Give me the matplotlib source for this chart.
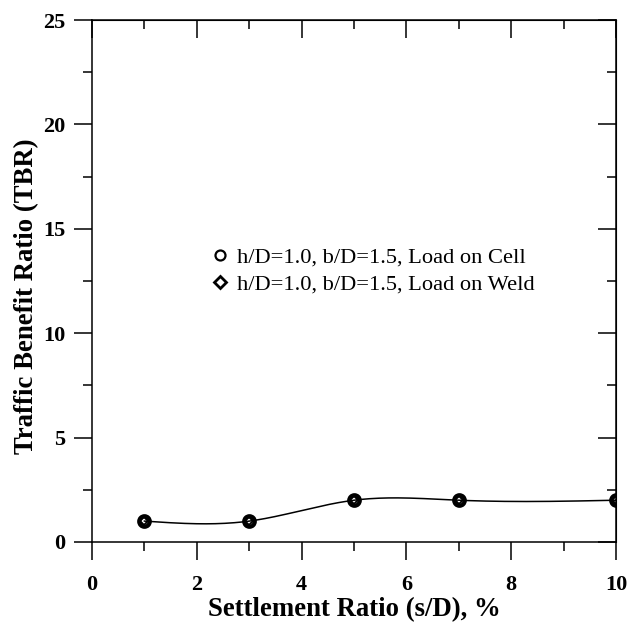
import numpy as np
import matplotlib
matplotlib.use('Agg')
import matplotlib.pyplot as plt
from matplotlib.lines import Line2D
from matplotlib.ticker import MultipleLocator

# Settlement ratio (s/D, %) and traffic benefit ratio
settlement = [1, 3, 5, 7, 10]
tbr_cell = [1.0, 1.0, 2.0, 2.0, 2.0]
tbr_weld = [1.0, 1.0, 2.0, 2.0, 2.0]
label_cell = 'h/D=1.0, b/D=1.5, Load on Cell'
label_weld = 'h/D=1.0, b/D=1.5, Load on Weld'


def smooth(x, y, n=200):
    # natural cubic spline drawn through the measured points
    x = np.asarray(x, float)
    y = np.asarray(y, float)
    k = len(x)
    h = np.diff(x)
    A = np.zeros((k, k))
    r = np.zeros(k)
    A[0, 0] = A[-1, -1] = 1
    for i in range(1, k - 1):
        A[i, i - 1] = h[i - 1]
        A[i, i] = 2 * (h[i - 1] + h[i])
        A[i, i + 1] = h[i]
        r[i] = 6 * ((y[i + 1] - y[i]) / h[i] - (y[i] - y[i - 1]) / h[i - 1])
    M = np.linalg.solve(A, r)
    xs = np.linspace(x[0], x[-1], n)
    idx = np.clip(np.searchsorted(x, xs) - 1, 0, k - 2)
    x0, x1 = x[idx], x[idx + 1]
    hh = x1 - x0
    a = (x1 - xs) / hh
    b = (xs - x0) / hh
    ys = a * y[idx] + b * y[idx + 1] + ((a**3 - a) * M[idx] + (b**3 - b) * M[idx + 1]) * hh**2 / 6
    return xs, ys


plt.rcParams['font.family'] = 'Liberation Serif'

fig = plt.figure(figsize=(6.28, 6.27), dpi=100)
ax = fig.add_axes([0.1465, 0.1356, 0.8345, 0.8325])

xs, ys = smooth(settlement, tbr_cell)
ax.plot(xs, ys, color='black', lw=1.1)
ax.plot(settlement, tbr_cell, 'o', ms=7.6, mfc='none', mec='black', mew=3.0, ls='none')
ax.plot(settlement, tbr_weld, 'D', ms=4.5, mfc='none', mec='black', mew=1.4, ls='none')

ax.set_xlim(0, 10)
ax.set_ylim(0, 25)
ax.xaxis.set_major_locator(MultipleLocator(2))
ax.xaxis.set_minor_locator(MultipleLocator(1))
ax.yaxis.set_major_locator(MultipleLocator(5))
ax.yaxis.set_minor_locator(MultipleLocator(2.5))

ax.tick_params(which='both', direction='out', width=1.1, colors='black', labelsize=16)
ax.tick_params(which='major', length=13)
ax.tick_params(which='minor', length=6.5)
ax.tick_params(axis='x', pad=11)
ax.tick_params(axis='y', pad=6)
for lab in ax.get_xticklabels() + ax.get_yticklabels():
    lab.set_fontweight('bold')
for s in ax.spines.values():
    s.set_linewidth(1.1)

# inward ticks on top and right
sec_x = ax.secondary_xaxis('top')
sec_x.xaxis.set_major_locator(MultipleLocator(2))
sec_x.xaxis.set_minor_locator(MultipleLocator(1))
sec_x.tick_params(which='both', direction='in', width=1.1, labeltop=False)
sec_x.tick_params(which='major', length=13)
sec_x.tick_params(which='minor', length=6.5)
sec_y = ax.secondary_yaxis('right')
sec_y.yaxis.set_major_locator(MultipleLocator(5))
sec_y.yaxis.set_minor_locator(MultipleLocator(2.5))
sec_y.tick_params(which='both', direction='in', width=1.1, labelright=False)
sec_y.tick_params(which='major', length=13)
sec_y.tick_params(which='minor', length=6.5)

ax.set_xlabel('Settlement Ratio (s/D), %', fontsize=19.3, fontweight='bold', labelpad=1)
ax.set_ylabel('Traffic Benefit Ratio (TBR)', fontsize=19.3, fontweight='bold')
ax.yaxis.set_label_coords(-0.101, 0.471)

handles = [
    Line2D([], [], ls='none', marker='o', ms=7.2, mfc='none', mec='black', mew=1.6),
    Line2D([], [], ls='none', marker='D', ms=6.4, mfc='none', mec='black', mew=2.0),
]
ax.legend(handles, [label_cell, label_weld], loc='upper left',
          bbox_to_anchor=(0.2996, 0.638), bbox_transform=fig.transFigure,
          frameon=False, fontsize=16.2, handletextpad=0.25, labelspacing=0.26,
          handlelength=1.0)

plt.savefig('out.png', dpi=100)
